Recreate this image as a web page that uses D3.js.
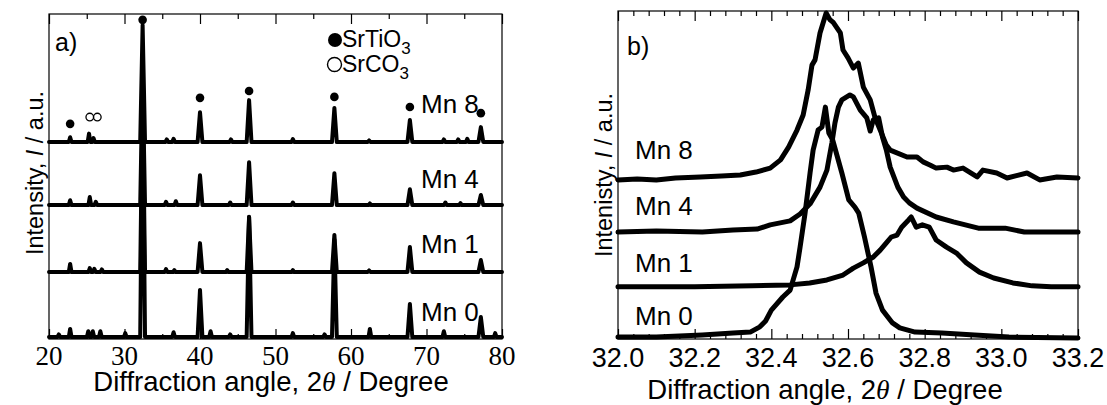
<!DOCTYPE html>
<html><head><meta charset="utf-8">
<script src="https://cdn.jsdelivr.net/npm/d3@7"></script>
<style>
html,body{margin:0;padding:0;background:#fff;}
svg{display:block;}
text{font-family:"Liberation Sans",Arial,sans-serif;fill:#000;}
</style></head>
<body>
<svg id="chart" width="1107" height="405"></svg>
<script>
// ---------- Panel a data (2θ in degrees, intensity in a.u.) ----------
const seriesNamesA = ["Mn 0", "Mn 1", "Mn 4", "Mn 8"];
const offsetsA = [0.6, 20.6, 41.2, 60.6];
const peaksMn0 = [[21.3,0.8],[22.8,2.5],[25.2,1.8],[25.8,1.8],[26.8,1.8],[30.1,1.2],[32.4,75],[36.5,1.5],[40.0,14.5],[41.4,1.8],[44.0,0.8],[46.5,37],[52.3,1.2],[56.5,0.8],[57.8,30],[62.5,2.5],[67.8,10.2],[72.3,1.8],[77.2,6.2],[79.1,1.2]];
const peaksMn1 = [[22.8,2.5],[25.4,1.2],[26.0,1.0],[27.0,0.8],[32.4,55],[35.5,0.9],[36.6,0.6],[40.0,8.9],[43.6,0.6],[46.5,16.9],[52.3,0.6],[57.8,11.4],[62.4,0.5],[67.8,7.7],[77.2,3.7]];
const peaksMn4 = [[22.8,1.5],[25.4,2.5],[26.2,1.0],[32.4,40],[35.5,1.0],[36.8,1.2],[40.0,9.2],[44.0,0.8],[46.5,13.2],[52.3,0.8],[57.8,9.8],[62.5,0.5],[67.8,4.9],[72.5,0.8],[74.5,0.6],[77.2,3.1]];
const peaksMn8 = [[22.8,1.5],[25.3,2.6],[25.9,1.2],[32.4,36],[35.6,0.8],[36.5,1.0],[40.0,9.2],[44.1,0.8],[46.5,12.9],[52.3,0.9],[57.8,10.5],[62.4,0.5],[67.8,6.8],[72.3,0.8],[74.2,0.8],[75.4,1.0],[77.2,4.6]];
const peaksA = [peaksMn0, peaksMn1, peaksMn4, peaksMn8];
const labelYA = [5.5, 26.5, 46.5, 69.5];
// phase markers: [2θ, intensity]
const markSrTiO3 = [[22.8,66.2],[32.4,98.2],[40.0,74.2],[46.5,76.3],[57.8,74.5],[67.8,71.4],[77.2,69.5]];
const markSrCO3 = [[25.4,68.3],[26.4,68.3]];
const ticksA = [20,30,40,50,60,70,80];
const minorTicksA = [25,35,45,55,65,75];

// ---------- Panel b data ----------
const seriesNamesB = ["Mn 0", "Mn 1", "Mn 4", "Mn 8"];
const curveMn0 = [[32.0,0.6],[32.1,0.6],[32.22,1.2],[32.30,1.8],[32.345,2.1],[32.37,3.7],[32.385,5.5],[32.40,8.8],[32.43,12.8],[32.449,14.9],[32.467,22.0],[32.475,28.0],[32.488,38.4],[32.501,50.6],[32.509,57.6],[32.522,63.7],[32.532,64.6],[32.541,70.7],[32.55,62.8],[32.56,60.7],[32.584,50.6],[32.602,42.4],[32.618,40.2],[32.628,38.4],[32.643,31.1],[32.66,22.0],[32.673,14.0],[32.69,8.8],[32.716,4.9],[32.735,3.4],[32.775,2.1],[32.845,1.8],[32.93,1.2],[33.02,0.6],[33.2,0.3]];
const curveMn1 = [[32.0,15.9],[32.2,15.9],[32.35,16.2],[32.449,16.5],[32.50,17.1],[32.545,18.0],[32.587,19.5],[32.614,21.6],[32.64,23.2],[32.666,25.0],[32.684,27.1],[32.70,29.3],[32.713,31.1],[32.728,31.7],[32.74,34.1],[32.758,36.3],[32.765,37.2],[32.778,34.1],[32.794,34.8],[32.812,34.1],[32.83,30.2],[32.857,28.0],[32.883,26.2],[32.909,23.2],[32.943,20.4],[32.98,18.6],[33.03,17.1],[33.08,16.2],[33.13,15.9],[33.2,15.9]];
const curveMn4 = [[32.0,32.6],[32.1,32.9],[32.22,32.6],[32.30,33.2],[32.363,33.5],[32.397,34.8],[32.449,36.0],[32.475,38.1],[32.501,41.2],[32.527,46.3],[32.545,51.5],[32.558,59.8],[32.566,65.9],[32.575,70.7],[32.584,72.9],[32.605,74.4],[32.614,73.8],[32.632,69.8],[32.649,67.4],[32.658,63.4],[32.666,66.8],[32.68,67.4],[32.69,61.6],[32.70,57.6],[32.71,52.4],[32.73,46.3],[32.745,43.3],[32.76,41.5],[32.78,39.9],[32.83,37.2],[32.875,35.7],[32.94,33.8],[33.01,33.8],[33.06,32.6],[33.13,32.6],[33.2,32.6]];
const curveMn8 = [[32.0,48.5],[32.05,48.8],[32.10,48.5],[32.15,49.1],[32.215,49.4],[32.27,49.7],[32.319,50.0],[32.36,50.9],[32.397,52.1],[32.424,54.6],[32.445,58.5],[32.467,63.7],[32.483,68.3],[32.496,75.9],[32.506,83.5],[32.514,85.1],[32.527,93.3],[32.543,99.4],[32.553,97.3],[32.561,96.6],[32.58,93.3],[32.587,88.1],[32.60,85.7],[32.614,82.6],[32.627,84.1],[32.64,76.8],[32.658,72.9],[32.67,67.7],[32.684,63.7],[32.70,59.1],[32.71,57.6],[32.754,55.5],[32.78,55.5],[32.796,54.0],[32.815,53.0],[32.83,52.1],[32.858,52.4],[32.875,51.5],[32.90,52.1],[32.937,49.4],[32.952,51.5],[32.988,50.6],[33.015,49.1],[33.067,50.6],[33.10,48.5],[33.145,49.4],[33.2,49.1]];
const curvesB = [curveMn0, curveMn1, curveMn4, curveMn8];
const labelYB = [4.3, 20.4, 37.8, 54.9];
const ticksB = [32.0,32.2,32.4,32.6,32.8,33.0,33.2];
const minorStepB = 0.04;

const svg = d3.select("#chart");

function frameTicks(g, x, y, major, minor, majorLen, minorLen) {
  const y0 = y.range()[0], y1 = y.range()[1];
  g.append("g").attr("transform", `translate(0,${y0})`)
    .call(d3.axisBottom(x).tickValues(major).tickSize(-majorLen).tickFormat(""))
    .call(s => s.select(".domain").remove());
  g.append("g").attr("transform", `translate(0,${y0})`)
    .call(d3.axisBottom(x).tickValues(minor).tickSize(-minorLen).tickFormat(""))
    .call(s => s.select(".domain").remove());
  g.append("g").attr("transform", `translate(0,${y1})`)
    .call(d3.axisTop(x).tickValues(major).tickSize(-majorLen).tickFormat(""))
    .call(s => s.select(".domain").remove());
  g.append("g").attr("transform", `translate(0,${y1})`)
    .call(d3.axisTop(x).tickValues(minor).tickSize(-minorLen).tickFormat(""))
    .call(s => s.select(".domain").remove());
  g.selectAll(".tick line").attr("stroke", "#000").attr("stroke-width", 1.2);
  g.append("rect").attr("x", x.range()[0]).attr("y", y1)
    .attr("width", x.range()[1] - x.range()[0]).attr("height", y0 - y1)
    .attr("fill", "none").attr("stroke", "#000").attr("stroke-width", 1.2);
}

// ================= Panel a =================
const xA = d3.scaleLinear().domain([20, 80]).range([49, 502]);
const yA = d3.scaleLinear().domain([0, 100]).range([339, 14]);
const gA = svg.append("g");

const lineA = d3.line().x(d => xA(d[0])).y(d => yA(d[1]));
peaksA.forEach((pk, i) => {
  const base = offsetsA[i];
  const pts = [[20, base]];
  pk.forEach(([p, h]) => {
    const w = h > 3 ? 0.32 : 0.18;
    pts.push([p - w, base], [p, base + h], [p + w, base]);
  });
  pts.push([80, base]);
  gA.append("path").attr("d", lineA(pts))
    .attr("fill", "none").attr("stroke", "#000").attr("stroke-width", 4)
    .attr("stroke-linejoin", "round").attr("stroke-linecap", "round");
});

frameTicks(gA, xA, yA, ticksA, minorTicksA, 10, 5);

// tick labels (serif)
gA.append("g").selectAll("text").data(ticksA).join("text")
  .attr("x", d => xA(d)).attr("y", 365).attr("text-anchor", "middle")
  .style("font-family", '"Liberation Serif","Times New Roman",serif')
  .style("font-size", "27px").text(d => d);

// markers
gA.append("g").selectAll("circle").data(markSrTiO3).join("circle")
  .attr("cx", d => xA(d[0])).attr("cy", d => yA(d[1])).attr("r", 4.3).attr("fill", "#000");
gA.append("g").selectAll("circle").data(markSrCO3).join("circle")
  .attr("cx", d => xA(d[0])).attr("cy", d => yA(d[1])).attr("r", 3.8)
  .attr("fill", "none").attr("stroke", "#000").attr("stroke-width", 1.3);

// series labels
gA.append("g").selectAll("text").data(seriesNamesA).join("text")
  .attr("x", 421).attr("y", (d, i) => yA(labelYA[i]))
  .style("font-size", "26px").text(d => d);

// legend
gA.append("circle").attr("cx", 335).attr("cy", 40).attr("r", 7).attr("fill", "#000");
const lt1 = gA.append("text").attr("x", 342).attr("y", 47).style("font-size", "23px");
lt1.append("tspan").text("SrTiO");
lt1.append("tspan").attr("dy", 7).style("font-size", "17px").text("3");
gA.append("circle").attr("cx", 334.5).attr("cy", 64.5).attr("r", 7)
  .attr("fill", "none").attr("stroke", "#000").attr("stroke-width", 1.4);
const lt2 = gA.append("text").attr("x", 342).attr("y", 72).style("font-size", "23px");
lt2.append("tspan").text("SrCO");
lt2.append("tspan").attr("dy", 7).style("font-size", "17px").text("3");

gA.append("text").attr("x", 55).attr("y", 51).style("font-size", "25px").text("a)");

// axis titles
function xTitle(g, cx, y) {
  const t = g.append("text").attr("x", cx).attr("y", y).attr("text-anchor", "middle").style("font-size", "27.5px");
  t.append("tspan").text("Diffraction angle, 2");
  t.append("tspan").style("font-family", '"Liberation Serif",serif').style("font-style", "italic").text("θ");
  t.append("tspan").text(" / Degree");
}
function yTitle(g, x, cy, word) {
  const t = g.append("text").attr("transform", `translate(${x},${cy}) rotate(-90)`)
    .attr("text-anchor", "middle").style("font-size", "23.5px");
  t.append("tspan").text(word + ", ");
  t.append("tspan").style("font-style", "italic").text("I");
  t.append("tspan").text(" / a.u.");
}
xTitle(gA, 271, 391);
yTitle(gA, 43, 173, "Intensity");

// ================= Panel b =================
const xB = d3.scaleLinear().domain([32.0, 33.2]).range([618, 1078]);
const yB = d3.scaleLinear().domain([0, 100]).range([339, 11]);
const gB = svg.append("g");
const lineB = d3.line().x(d => xB(d[0])).y(d => yB(d[1]));
curvesB.forEach(c => {
  gB.append("path").attr("d", lineB(c))
    .attr("fill", "none").attr("stroke", "#000").attr("stroke-width", 5)
    .attr("stroke-linejoin", "round").attr("stroke-linecap", "round");
});
const minorB = d3.range(0, 31).map(i => +(32.0 + i * minorStepB).toFixed(2))
  .filter(v => !ticksB.some(t => Math.abs(t - v) < 1e-6));
frameTicks(gB, xB, yB, ticksB, minorB, 10, 5);

gB.append("g").selectAll("text").data(ticksB).join("text")
  .attr("x", d => xB(d)).attr("y", 367).attr("text-anchor", "middle")
  .style("font-size", "27px").text(d => d.toFixed(1));

gB.append("g").selectAll("text").data(seriesNamesB).join("text")
  .attr("x", 635).attr("y", (d, i) => yB(labelYB[i]))
  .style("font-size", "26px").text(d => d);

gB.append("text").attr("x", 627).attr("y", 55).style("font-size", "25px").text("b)");

xTitle(gB, 825, 399);
yTitle(gB, 612, 175, "Intenisty");
</script>
</body></html>
